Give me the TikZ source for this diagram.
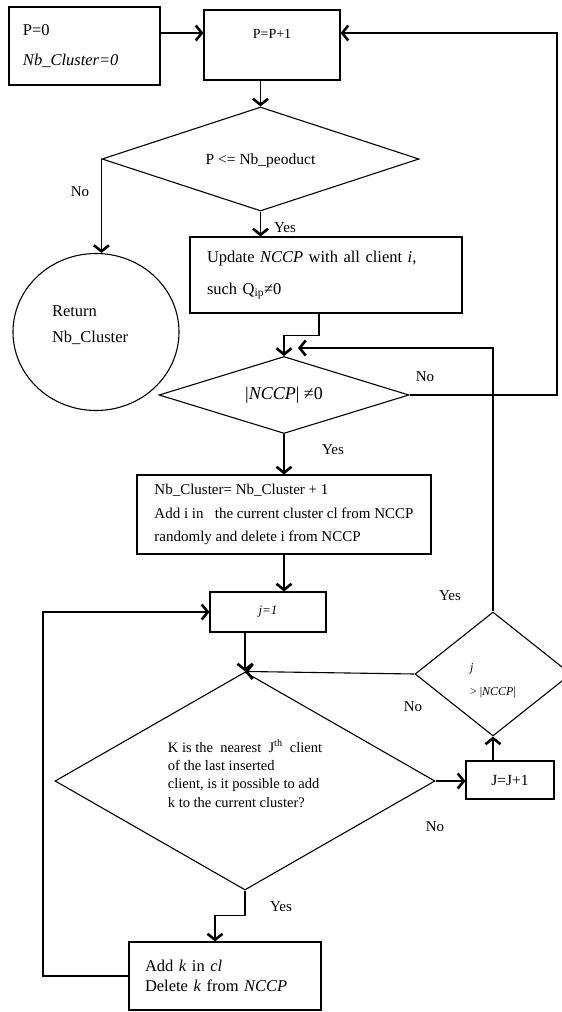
\documentclass[tikz,border=0pt]{standalone}
\usepackage{fontspec}
\setmainfont{Liberation Serif}
\usetikzlibrary{arrows.meta,shapes.geometric}

\begin{document}
\begin{tikzpicture}[x=1pt,y=-1pt,
 blk/.style={draw,line width=1.1pt,rectangle,inner sep=0pt},
 dec/.style={draw,line width=1.1pt,diamond,inner sep=0pt},
 arr/.style={line width=1.1pt,-{Straight Barb[length=6pt,width=15pt,line width=2.6pt]}},
 lab/.style={font=\fontsize{15}{18}\selectfont,inner sep=0pt}
]
\useasboundingbox (0,0) rectangle (562,1012);
\clip (0,0) rectangle (562,1012);
% boxes
\node[blk,minimum width=151,minimum height=78,text width=123,align=left,font=\fontsize{16.5}{19}\selectfont] (init) at (84.5,46) {P=0\\[11pt]\textit{Nb\_Cluster=0}};
\node[blk,minimum width=136,minimum height=70,text height=28,text depth=42,font=\fontsize{14}{17}\selectfont] (inc) at (272,45) {P=P+1};
\node[dec,minimum width=317,minimum height=104,aspect=3.05,text height=15pt,font=\fontsize{15.5}{18}\selectfont] (d1) at (260.5,159) {P <= Nb\_peoduct};
\node[draw,line width=1.1pt,ellipse,minimum width=166,minimum height=157,inner sep=0pt,text width=88,text depth=41pt,align=left,font=\fontsize{16.5}{26}\selectfont] (ret) at (96,332) {Return\\Nb\_Cluster};
\node[blk,minimum width=272,minimum height=76,text width=238,align=left,font=\fontsize{16.5}{19}\selectfont] (upd) at (326,275) {Update \textit{NCCP} with all client \textit{i},\\[13pt]such Q\textsubscript{ip}≠0};
\node[dec,minimum width=250,minimum height=77,aspect=3.25,font=\fontsize{18}{21}\selectfont] (d2) at (284,395) {|\textit{NCCP}| ≠0};
\node[blk,minimum width=294,minimum height=79,align=left,font=\fontsize{15}{23.5}\selectfont] (nb) at (284,514.5) {Nb\_Cluster= Nb\_Cluster + 1\\Add i in\ \ \ the current cluster cl from NCCP\\randomly and delete i from NCCP};
\node[blk,minimum width=116,minimum height=40,font=\fontsize{13}{15}\selectfont] (j1) at (268,612) {\textit{j=1}};
\node[dec,minimum width=380,minimum height=218,aspect=1.74,text depth=15pt,align=left,font=\fontsize{14.5}{18.3}\selectfont] (d3) at (245,781) {K is the \ nearest \ J\textsuperscript{th} \ client\\of the last inserted\\client, is it possible to add\\k to the current cluster?};
\node[dec,minimum width=156,minimum height=124,aspect=1.26,text height=46pt,align=left,font=\fontsize{12}{24}\selectfont] (d4) at (493,674) {\textit{j}\\> |\textit{NCCP}|};
\node[blk,minimum width=88,minimum height=38,font=\fontsize{15.5}{18}\selectfont] (jinc) at (510,780) {J=J+1};
\node[blk,minimum width=192,minimum height=68,text width=160,align=left,font=\fontsize{16.5}{20}\selectfont] (add) at (225,976) {Add \textit{k} in \textit{cl}\\Delete \textit{k} from \textit{NCCP}};
% helper points
\coordinate (rowA) at (0,33);
\coordinate (rcol) at (557,0);
\coordinate (lcol) at (43,0);
\coordinate (back) at (298,348);
% connectors
\draw[arr] (init.east |- rowA) -- (inc.west |- rowA);
\draw[arr] (d1.north |- inc.south) -- (d1.north);
\draw[arr] (d1.west) -- (d1.west |- ret.north);
\draw[arr] (d1.south) -- (d1.south |- upd.north);
\draw[arr] ([xshift=-7pt]upd.south) -- ++(0,22) -| (d2.north);
\draw[arr] (d2.east) -- (d2.east -| rcol) |- (inc.east |- rowA);
\draw[arr] (d2.south) -- (d2.south |- nb.north);
\draw[arr] (nb.south) -- (nb.south |- j1.north);
\draw[arr] (d3.north |- j1.south) -- (d3.north);
\draw[arr] (d3.east) -- (d3.east -| jinc.west);
\draw[arr] (d4.south |- jinc.north) -- (d4.south);
\draw[arr] (d4.west) -- (d3.north);
\draw[arr] (d4.north) |- (back);
\draw[arr] (d3.south) -- ++(0,25) -| ([xshift=-10pt]add.north);
\draw[arr] (add.west) -- (add.west -| lcol) |- (j1.west);
% branch labels
\node[lab] (no1) at (80,192) {No};
\node[lab] (yes1) at (285,228) {Yes};
\node[lab] (no2) at (425,377) {No};
\node[lab] (yes2) at (333,450) {Yes};
\node[lab] (yes3) at (450,596) {Yes};
\node[lab] (no3) at (413,707) {No};
\node[lab] (no4) at (435,827) {No};
\node[lab] (yes4) at (281,907) {Yes};
\end{tikzpicture}
\end{document}
